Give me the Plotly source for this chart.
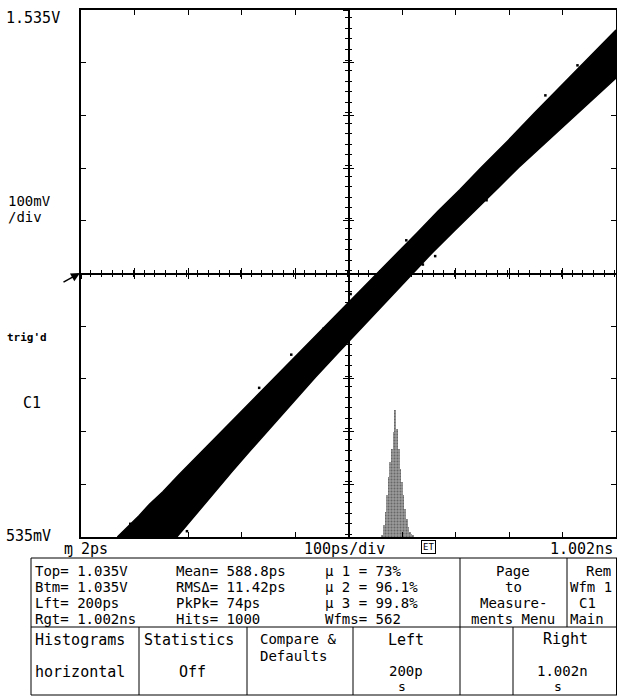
import plotly.graph_objects as go

# ---------------- data ----------------
# time axis in ps, voltage axis in mV
x_range = [2, 1002]
y_range = [535, 1535]

# persistence band of the rising edge: upper-left edge and lower-right edge
band_upper_t = [70, 92, 110, 130, 155, 185, 215, 250, 285, 320, 360, 400, 440, 480,
                520, 555, 590, 630, 670, 710, 750, 800, 850, 900, 950, 1002]
band_upper_v = [535, 556, 575, 597, 621, 653, 683, 720, 756, 792, 833, 876, 916, 958,
                998, 1035, 1071, 1112, 1154, 1194, 1236, 1287, 1340, 1391, 1443, 1497]
band_lower_t = [1002, 970, 940, 900, 860, 820, 780, 740, 700, 660, 622, 590, 560, 520,
                480, 440, 400, 360, 320, 285, 250, 215, 181]
band_lower_v = [1406, 1376, 1349, 1312, 1274, 1236, 1196, 1157, 1116, 1076, 1035, 1002,
                969, 925, 882, 838, 793, 748, 701, 660, 618, 576, 535]

# isolated hits scattered just outside the band edges
stray_t = [94, 200, 664, 641, 506, 335, 760, 395, 870, 930, 230, 610, 455, 985]
stray_v = [560, 546, 1068, 1052, 996, 818, 1174, 881, 1373, 1430, 695, 1098, 930, 1400]

# horizontal histogram of crossing times at the centre level
hist_t = [566, 569, 572, 575, 578, 581, 584, 587, 590, 593, 596, 599, 602, 605, 608,
          611, 614, 617, 620, 623]
hist_counts = [2, 12, 25, 42, 60, 75, 88, 105, 127, 108, 88, 68, 55, 42, 28, 18, 10,
               5, 3, 2]
hist_range = [0, 527]

# ---------------- figure ----------------
W, H = 617, 696
L, R, T, B = 81, 1, 10, 159
PW, PH = W - L - R, H - T - B


def px(x):
    return (x - L) / PW


def py(y):
    return (T + PH - y) / PH


fig = go.Figure()

fig.add_trace(go.Scatter(
    x=band_upper_t + band_lower_t,
    y=band_upper_v + band_lower_v,
    fill="toself", fillcolor="black", mode="lines",
    line=dict(color="black", width=1.5), hoverinfo="skip", showlegend=False))

fig.add_trace(go.Scatter(
    x=stray_t, y=stray_v, mode="markers",
    marker=dict(color="black", size=2.5, symbol="square"),
    hoverinfo="skip", showlegend=False))

fig.add_trace(go.Bar(
    x=hist_t, y=hist_counts, yaxis="y2", width=3,
    marker=dict(color="#9a9a9a", line=dict(width=0),
                pattern=dict(shape=".", fgcolor="#333333", size=3, solidity=0.35)),
    showlegend=False, hoverinfo="skip"))

# dummy traces so the centre-crosshair axes are drawn
for xa, ya in [("x2", "y"), ("x3", "y"), ("x", "y3"), ("x", "y4")]:
    fig.add_trace(go.Scatter(x=[None], y=[None], xaxis=xa, yaxis=ya,
                             showlegend=False, hoverinfo="skip"))

axcommon = dict(showgrid=False, zeroline=False, showticklabels=False,
                linecolor="black", tickcolor="black", linewidth=1.5)

fig.update_layout(
    width=W, height=H,
    margin=dict(l=L, r=R, t=T, b=B, autoexpand=False),
    paper_bgcolor="white", plot_bgcolor="white",
    bargap=0,
    xaxis=dict(range=x_range, showline=True, mirror="ticks", ticks="inside",
               tick0=2, dtick=100, ticklen=5, **axcommon),
    yaxis=dict(range=y_range, showline=True, mirror="ticks", ticks="inside",
               tick0=535, dtick=100, ticklen=5, **axcommon),
    yaxis2=dict(range=hist_range, overlaying="y", visible=False),
    xaxis2=dict(range=x_range, overlaying="x", anchor="free", position=0.5,
                showline=True, ticks="outside", tick0=2, dtick=100, ticklen=5,
                minor=dict(dtick=20, ticklen=3, ticks="outside", tickcolor="black"),
                **axcommon),
    xaxis3=dict(range=x_range, overlaying="x", anchor="free", position=0.5,
                showline=True, ticks="inside", tick0=2, dtick=100, ticklen=5,
                minor=dict(dtick=20, ticklen=3, ticks="inside", tickcolor="black"),
                **axcommon),
    yaxis3=dict(range=y_range, overlaying="y", anchor="free", position=0.5,
                showline=True, ticks="outside", tick0=535, dtick=100, ticklen=5,
                minor=dict(dtick=20, ticklen=3, ticks="outside", tickcolor="black"),
                **axcommon),
    yaxis4=dict(range=y_range, overlaying="y", anchor="free", position=0.5,
                showline=True, ticks="inside", tick0=535, dtick=100, ticklen=5,
                minor=dict(dtick=20, ticklen=3, ticks="inside", tickcolor="black"),
                **axcommon),
    font=dict(family="DejaVu Sans Mono", color="black", size=15),
)

ann = []


def txt(s, x, y, anchor="left", size=15, bold=False, **kw):
    if bold:
        s = "<b>" + s + "</b>"
    ann.append(dict(text=s, x=px(x), y=py(y), xref="paper", yref="paper",
                    xanchor=anchor, yanchor="middle", showarrow=False,
                    font=dict(size=size, family="DejaVu Sans Mono", color="black"), **kw))


# left side labels
txt("1.535V", 4, 18, size=15)
txt("100mV", 6, 201, size=14)
txt("/div", 6, 217, size=14)
txt("trig'd", 5, 338, size=11, bold=True)
txt("C1", 21, 403, size=15)
txt("535mV", 4, 536, size=15)

# header row under the grid
txt("ɱ", 62, 549, size=15)
txt("2ps", 79, 549, size=15)
txt("100ps/div", 344, 549, anchor="center", size=15)
txt("1.002ns", 615, 549, anchor="right", size=15)
txt("ET", 428, 547, anchor="center", size=9, bordercolor="black", borderwidth=1,
    borderpad=1)

# measurement rows
rows_y = [571, 587, 603, 619]
col1 = ["Top= 1.035V", "Btm= 1.035V", "Lft= 200ps", "Rgt= 1.002ns"]
col2 = ["Mean= 588.8ps", "RMSΔ= 11.42ps", "PkPk= 74ps", "Hits= 1000"]
col3 = ["μ 1 = 73%", "μ 2 = 96.1%", "μ 3 = 99.8%", "Wfms= 562"]
col4 = ["Page", "to", "Measure-", "ments Menu"]
for i, yy in enumerate(rows_y):
    txt(col1[i], 33, yy, size=14)
    txt(col2[i], 174, yy, size=14)
    txt(col3[i], 323, yy, size=14)
    txt(col4[i], 513, yy, anchor="center", size=14)
txt("Rem", 598, 571, anchor="center", size=14)
txt("Wfm 1", 568, 587, size=14)
txt("C1", 577, 603, size=14)
txt("Main", 568, 619, size=14)

# soft-key buttons
txt("Histograms", 33, 640, size=15)
txt("horizontal", 33, 672, size=15)
txt("Statistics", 142, 640, size=15)
txt("Off", 192, 672, anchor="center", size=15)
txt("Compare &", 258, 639, size=14)
txt("Defaults", 258, 656, size=14)
txt("Left", 406, 640, anchor="center", size=15)
txt("200p", 406, 671, anchor="center", size=14)
txt("s", 402, 686, anchor="center", size=13)
txt("Right", 565, 639, anchor="center", size=15)
txt("1.002n", 562, 671, anchor="center", size=14)
txt("s", 558, 686, anchor="center", size=13)

# trigger-level arrow
ann.append(dict(x=px(80), y=py(273), xref="paper", yref="paper", text="",
                showarrow=True, ax=-18, ay=10, arrowhead=2, arrowsize=1.2,
                arrowwidth=1.5, arrowcolor="black"))

fig.update_layout(annotations=ann)

# table frame
shapes = []


def seg(x0, y0, x1, y1):
    shapes.append(dict(type="line", xref="paper", yref="paper",
                       x0=px(x0), y0=py(y0), x1=px(x1), y1=py(y1),
                       line=dict(color="black", width=1)))


seg(31, 558, 617, 558)
seg(31, 627, 617, 627)
seg(31, 695, 617, 695)
seg(31, 558, 31, 695)
seg(616.5, 558, 616.5, 695)
seg(460, 558, 460, 627)
seg(567, 558, 567, 627)
for xv in [139, 247, 353, 460, 513]:
    seg(xv, 627, xv, 695)
fig.update_layout(shapes=shapes)

fig.write_html(
    "out.html",
    config={"displayModeBar": False},
    post_script="document.body.style.margin='0px';"
                "document.body.style.overflow='hidden';",
)
